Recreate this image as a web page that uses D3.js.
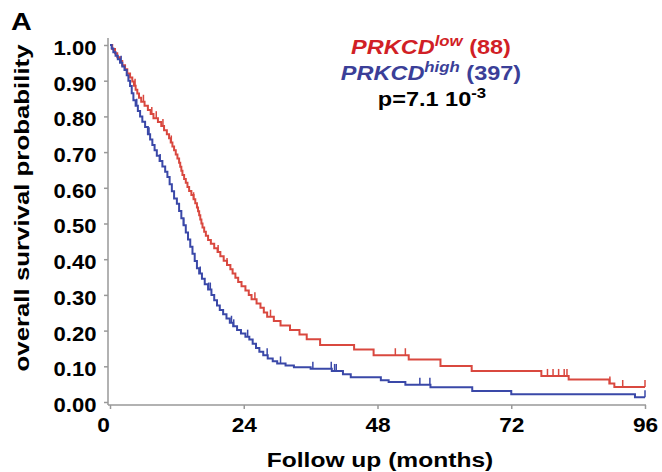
<!DOCTYPE html>
<html><head><meta charset="utf-8">
<script src="https://cdn.jsdelivr.net/npm/d3@7"></script>
<style>body{margin:0;background:#fff}svg{display:block;font-family:"Liberation Sans",Arial,sans-serif}</style>
</head><body><svg id="c" width="662" height="472"></svg>
<script>
// Kaplan-Meier steps: [time (months), survival]
const lowSteps = [[0,1.000],[0.4,0.989],[0.9,0.977],[1.3,0.966],[1.8,0.955],[2.2,0.943],[2.7,0.932],[3.1,0.920],[3.6,0.909],[4.0,0.898],[4.3,0.886],[4.6,0.875],[4.9,0.864],[5.2,0.852],[5.6,0.841],[6.2,0.830],[6.8,0.818],[7.3,0.807],[7.8,0.795],[8.6,0.784],[9.2,0.773],[9.7,0.761],[10.2,0.750],[10.6,0.739],[10.9,0.727],[11.2,0.716],[11.5,0.705],[11.8,0.693],[12.1,0.682],[12.4,0.670],[12.6,0.659],[12.8,0.648],[13.0,0.636],[13.3,0.625],[13.6,0.614],[13.9,0.602],[14.2,0.591],[14.6,0.580],[15.0,0.568],[15.3,0.557],[15.6,0.545],[15.8,0.534],[16.0,0.523],[16.2,0.511],[16.4,0.500],[16.6,0.489],[16.9,0.477],[17.2,0.466],[17.6,0.454],[18.1,0.443],[18.7,0.431],[19.3,0.420],[19.8,0.408],[20.4,0.396],[21.0,0.384],[21.6,0.372],[22.0,0.360],[22.5,0.348],[23.0,0.336],[23.6,0.324],[24.3,0.312],[24.9,0.300],[25.4,0.288],[26.3,0.276],[27.0,0.264],[27.6,0.251],[28.2,0.239],[29.4,0.227],[30.6,0.214],[32.3,0.202],[34.0,0.189],[35.3,0.176],[37.7,0.160],[43.8,0.147],[47.3,0.131],[53.6,0.119],[59.3,0.101],[64.9,0.087],[77.4,0.073],[82.3,0.063],[89.6,0.052],[90.5,0.042],[96,0.042]];
const lowCensor = [4.5,6.0,7.5,8.3,9.5,11.0,15.0,19.4,21.0,26.0,28.8,51.2,53.0,78.5,79.5,80.5,81.5,82.0,89.7,92.0,96];
const highSteps = [[0,1.0],[0.3,0.99],[0.6,0.98],[1.0,0.97],[1.4,0.96],[1.8,0.95],[2.2,0.94],[2.6,0.93],[3.0,0.915],[3.3,0.90],[3.6,0.885],[3.9,0.865],[4.2,0.845],[4.6,0.83],[5.0,0.815],[5.4,0.80],[5.8,0.785],[6.3,0.77],[6.8,0.75],[7.2,0.735],[7.6,0.72],[8.0,0.705],[8.4,0.69],[8.9,0.675],[9.4,0.66],[9.9,0.645],[10.3,0.63],[10.7,0.61],[11.1,0.59],[11.5,0.57],[12.0,0.555],[12.4,0.535],[12.8,0.515],[13.2,0.495],[13.6,0.475],[14.0,0.455],[14.4,0.435],[14.8,0.415],[15.2,0.395],[15.6,0.375],[16.0,0.36],[16.5,0.345],[17.0,0.33],[17.6,0.315],[18.2,0.30],[18.7,0.285],[19.2,0.27],[19.7,0.258],[20.3,0.246],[20.9,0.234],[21.5,0.222],[22.1,0.212],[22.8,0.202],[23.5,0.192],[24.3,0.183],[25.0,0.175],[25.6,0.163],[26.2,0.151],[26.8,0.141],[27.5,0.131],[28.3,0.122],[29.2,0.114],[30.0,0.108],[31.5,0.102],[33.0,0.097],[36.0,0.093],[39.8,0.087],[41.8,0.078],[43.2,0.069],[48.6,0.061],[50.0,0.056],[53.0,0.048],[57.5,0.041],[65.0,0.031],[72.0,0.022],[94.2,0.013],[96,0.013]];
const highCensor = [2.0,4.8,7.0,9.0,13.2,16.2,17.7,18.0,21.8,22.2,24.7,28.2,30.6,36.4,39.7,40.3,40.6,55.6,57.4,96];
const xTicks = [0,24,48,72,96];
const yTicks = [0,0.1,0.2,0.3,0.4,0.5,0.6,0.7,0.8,0.9,1.0];

const svg = d3.select("#c");
const x = d3.scaleLinear().domain([0,96]).range([110,645]);
const y = d3.scaleLinear().domain([0,1]).range([402,45]);
const axisCol = "#999";

// axes
const gx = svg.append("g").attr("transform","translate(0,405)")
  .call(d3.axisBottom(x).tickValues(xTicks).tickSize(4).tickPadding(8).tickFormat(d3.format("d")));
gx.select(".domain").attr("d","M108,0H646");
const gy = svg.append("g").attr("transform","translate(108,0)")
  .call(d3.axisLeft(y).tickValues(yTicks).tickSize(4).tickPadding(7).tickFormat(d3.format(".2f")));
gy.select(".domain").attr("d","M0,38V405");
[gx,gy].forEach(g=>{
  g.selectAll(".domain,line").attr("stroke",axisCol).attr("stroke-width",1.5);
  g.selectAll("text").attr("fill","#000").attr("font-weight","bold")
   .attr("font-family","'Liberation Sans',Arial,sans-serif").attr("font-size",21);
});
gx.selectAll("text").attr("transform",d=>d===0?"translate(-7,0) scale(1.08,1)":"scale(1.08,1)");
gy.selectAll("text").attr("dy","0.45em").attr("transform","scale(1.05,1)");

// curves
const line = d3.line().x(d=>x(d[0])).y(d=>y(d[1])).curve(d3.curveStepAfter);
function survAt(steps,t){let s=steps[0][1];for(const p of steps){if(p[0]<=t)s=p[1];}return s;}
function drawCurve(steps,cens,col){
  svg.append("path").datum(steps).attr("d",line).attr("fill","none")
    .attr("stroke",col).attr("stroke-width",2);
  svg.append("g").selectAll("line").data(cens).join("line")
    .attr("x1",d=>x(d)).attr("x2",d=>x(d))
    .attr("y1",d=>y(survAt(steps,d))).attr("y2",d=>y(survAt(steps,d))-7)
    .attr("stroke",col).attr("stroke-width",1.5);
}
drawCurve(lowSteps,lowCensor,"#d9483f");
drawCurve(highSteps,highCensor,"#3a48a8");

// titles
svg.append("text").attr("transform","translate(11,30) scale(1.25,1)").attr("font-size",23)
  .attr("font-weight","bold").text("A");
svg.append("text").attr("transform","translate(29,208) rotate(-90) scale(1.23,1)").attr("text-anchor","middle")
  .attr("font-size",21).attr("font-weight","bold").text("overall survival probability");
svg.append("text").attr("transform","translate(380,467) scale(1.17,1)").attr("text-anchor","middle")
  .attr("font-size",21).attr("font-weight","bold").text("Follow up (months)");

// legend
function legendLine(cx,yy,col,sup,n){
  const t = svg.append("text").attr("transform",`translate(${cx},${yy}) scale(1.12,1)`)
    .attr("text-anchor","middle").attr("font-size",21).attr("font-weight","bold").attr("fill",col);
  t.append("tspan").attr("font-style","italic").text("PRKCD");
  t.append("tspan").attr("font-style","italic").attr("font-size",15).attr("dy",-8).text(sup);
  t.append("tspan").attr("dy",8).text(" ("+n+")");
}
legendLine(431,54,"#d11f26","low",88);
legendLine(431,80,"#3b3f98","high",397);
const p = svg.append("text").attr("transform","translate(432,106) scale(1.12,1)").attr("text-anchor","middle")
  .attr("font-size",21).attr("font-weight","bold").attr("fill","#000");
p.append("tspan").text("p=7.1 10");
p.append("tspan").attr("font-size",15).attr("dy",-8).text("-3");
</script></body></html>
